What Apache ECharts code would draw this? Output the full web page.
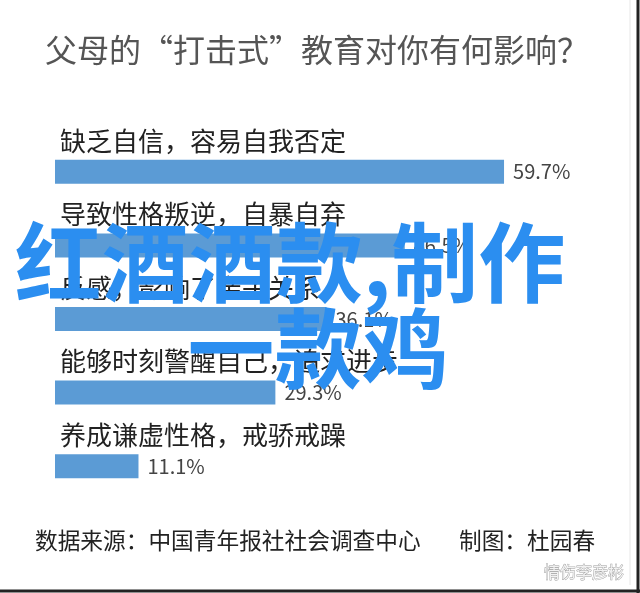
<!DOCTYPE html>
<html>
<head>
<meta charset="utf-8">
<script src="https://cdn.jsdelivr.net/npm/echarts@6/dist/echarts.min.js"></script>
<style>
html,body{margin:0;padding:0;background:#fff;}
#c{width:640px;height:593px;}
</style>
</head>
<body>
<div id="c"></div>
<script>
const titleText = '父母的“打击式”教育对你有何影响？';
const categories = ['缺乏自信，容易自我否定', '导致性格叛逆，自暴自弃', '反感，影响了亲子关系', '能够时刻警醒自己，追求进步', '养成谦虚性格，戒骄戒躁'];
const values = [59.7, 46.5, 36.1, 29.3, 11.1];
const sourceText = '数据来源：中国青年报社社会调查中心';
const authorText = '制图：杜园春';
const watermarkLine1 = '红酒酒款,制作';
const watermarkLine2 = '一款鸡';
const cornerMark = '情伤李彦彬';

const FONT = '"Noto Sans CJK SC", "Noto Sans", sans-serif';
const chart = echarts.init(document.getElementById('c'));
chart.setOption({
  backgroundColor: '#ffffff',
  animation: false,
  grid: { left: 55, right: 58.5, top: 135, bottom: 90 },
  xAxis: { type: 'value', min: 0, max: 70, show: false },
  yAxis: { type: 'category', inverse: true, data: categories, show: false },
  series: [
    {
      type: 'bar',
      data: values,
      barWidth: 24,
      itemStyle: { color: '#5b9bd5' },
      label: {
        show: true, position: 'right', distance: 9,
        formatter: p => p.value.toFixed(1) + '%',
        color: '#444', fontSize: 20, fontFamily: FONT
      },
      z: 2
    },
    {
      type: 'bar',
      data: values,
      barWidth: 24,
      barGap: '-100%',
      itemStyle: { color: 'rgba(0,0,0,0)' },
      label: {
        show: true, position: [5, -19], align: 'left', verticalAlign: 'middle',
        formatter: '{b}', color: '#222', fontSize: 26, fontFamily: FONT
      },
      z: 3
    }
  ],
  graphic: [
    { type: 'text', x: 317, y: 50, style: { text: titleText, fill: '#555', font: '32px ' + FONT, textAlign: 'center', textVerticalAlign: 'middle' } },
    { type: 'text', x: 35, y: 540, style: { text: sourceText, fill: '#222', font: '22.7px ' + FONT, textAlign: 'left', textVerticalAlign: 'middle' } },
    { type: 'text', x: 459, y: 540, style: { text: authorText, fill: '#222', font: '22.7px ' + FONT, textAlign: 'left', textVerticalAlign: 'middle' } },
    { type: 'text', x: 584, y: 572, style: { text: cornerMark, fill: '#f2f2f2', stroke: '#9a9a9a', lineWidth: 0.8, font: '16px ' + FONT, textAlign: 'center', textVerticalAlign: 'middle' } },
    { type: 'line', shape: { x1: 630, y1: 0, x2: 630, y2: 585 }, style: { stroke: '#e6e6e6', lineWidth: 1 } },
    { type: 'line', shape: { x1: 638, y1: 0, x2: 638, y2: 593 }, style: { stroke: '#222', lineWidth: 3 } },
    { type: 'line', shape: { x1: 0, y1: 591, x2: 640, y2: 591 }, style: { stroke: '#222', lineWidth: 3 } },
    { type: 'text', z: 100, x: 290, y: 263, style: { text: watermarkLine1, fill: '#2b8ef0', font: 'bold 87px ' + FONT, textAlign: 'center', textVerticalAlign: 'middle' } },
    { type: 'text', z: 100, x: 318, y: 349, style: { text: watermarkLine2, fill: '#2b8ef0', font: 'bold 87px ' + FONT, textAlign: 'center', textVerticalAlign: 'middle' } }
  ]
});
</script>
</body>
</html>
